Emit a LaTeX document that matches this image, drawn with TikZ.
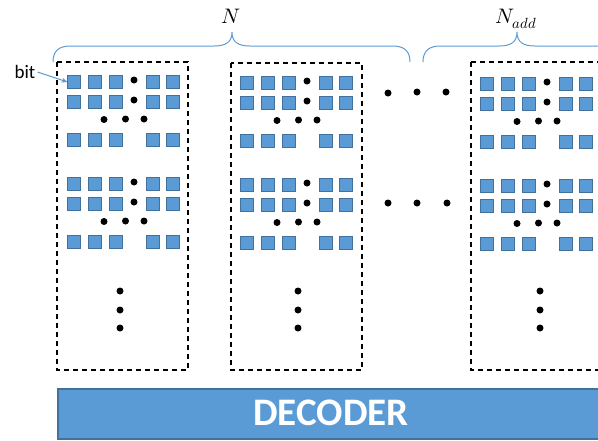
\documentclass[tikz,border=0pt]{standalone}
\usepackage{fontspec}
\usepackage{unicode-math}
\setmainfont{Carlito}
\setmathfont{Latin Modern Math}
\usetikzlibrary{arrows.meta}
\definecolor{bitfill}{HTML}{5B9BD5}
\definecolor{bitdraw}{HTML}{41719C}
\tikzset{
  bitsq/.style={draw=bitdraw, fill=bitfill, line width=1.2pt, minimum size=13pt, inner sep=0pt, outer sep=0pt},
  blackdot/.style={circle, fill=black, minimum size=7pt, inner sep=0pt},
  dashbox/.style={draw=black, line width=1.5pt, dash pattern=on 5pt off 4pt},
  bracestyle/.style={draw=bitfill, line width=1pt},
}
\newcommand{\bitgroup}[3]{%
  % #1 name prefix, #2 x0, #3 y0 (centre of first square, first row)
  \foreach \rr/\dy in {a/0,b/20,c/58}{%
    \foreach \cc/\dx in {1/0,2/21,3/42,4/79,5/99}{%
      \node[bitsq] (#1\rr\cc) at (#2+\dx, #3+\dy) {};
    }%
  }%
  \node[blackdot] (#1da) at (#2+60, #3-2) {};
  \node[blackdot] (#1db) at (#2+60, #3+18) {};
  \node[blackdot] (#1dc) at (#2+30, #3+37.5) {};
  \node[blackdot] (#1dd) at (#2+51.5, #3+37) {};
  \node[blackdot] (#1de) at (#2+70, #3+37) {};
}
\begin{document}
\begin{tikzpicture}[x=1pt, y=-1pt]
\useasboundingbox (0,0) rectangle (598,440);
\begin{scope}
\clip (0,0) rectangle (598,440);
% dashed boxes
\draw[dashbox] (57,62) rectangle (188,370);
\draw[dashbox] (231,63) rectangle (362,370);
\draw[dashbox] (471,62) -- (610,62);
\draw[dashbox] (471,62) -- (471,370) -- (610,370);
% groups
\bitgroup{A}{74}{82}
\bitgroup{B}{74}{184}
\bitgroup{C}{247}{83}
\bitgroup{D}{247}{185}
\bitgroup{E}{487}{84}
\bitgroup{F}{487}{186}
% vertical dots
\node[blackdot] (v1a) at (120,291) {};
\node[blackdot] (v1b) at (120,310) {};
\node[blackdot] (v1c) at (120,328) {};
\node[blackdot] (v2a) at (298,291) {};
\node[blackdot] (v2b) at (298,310) {};
\node[blackdot] (v2c) at (298,328) {};
\node[blackdot] (v3a) at (540,291) {};
\node[blackdot] (v3b) at (540,310) {};
\node[blackdot] (v3c) at (540,328) {};
% middle dots
\node[blackdot] (m1) at (388,93) {};
\node[blackdot] (m2) at (417,92) {};
\node[blackdot] (m3) at (446,92) {};
\node[blackdot] (m4) at (388,203) {};
\node[blackdot] (m5) at (417,203) {};
\node[blackdot] (m6) at (447,203) {};
% braces
\draw[bracestyle] (53,62) .. controls (53,52) and (58,46) .. (70,46) -- (214,46)
  .. controls (226,46) and (232,42) .. (232,32)
  .. controls (232,42) and (238,46) .. (250,46) -- (393,46)
  .. controls (405,46) and (410,52) .. (410,62);
\draw[bracestyle] (423,62) .. controls (423,52) and (428,46) .. (440,46) -- (499,46)
  .. controls (511,46) and (517,42) .. (517,32)
  .. controls (517,42) and (523,46) .. (535,46) -- (598,46) -- (620,46);
\node (N) at (231,16) {\fontsize{21}{24}\selectfont$N$};
\node (Nadd) at (516,19) {\fontsize{21}{24}\selectfont$N_{add}$};
% bit label
\node[anchor=center, inner sep=0pt] (bit) at (25,72) {\fontsize{19}{22}\selectfont bit};
\draw[draw=bitfill, line width=1pt, -{Stealth[length=6pt,width=5pt]}] (bit.east) ++(2,0) coordinate (bs) (bs) -- (Aa1.west);
% decoder
\node[draw=bitdraw, fill=bitfill, line width=1.5pt, minimum width=560pt, minimum height=50pt, inner sep=0pt, anchor=north west] (dec) at (57,388) {};
\node[text=white, font=\fontsize{39}{44}\selectfont\bfseries] (dectext) at (331,413) {DECODER};
\end{scope}
\end{tikzpicture}
\end{document}
